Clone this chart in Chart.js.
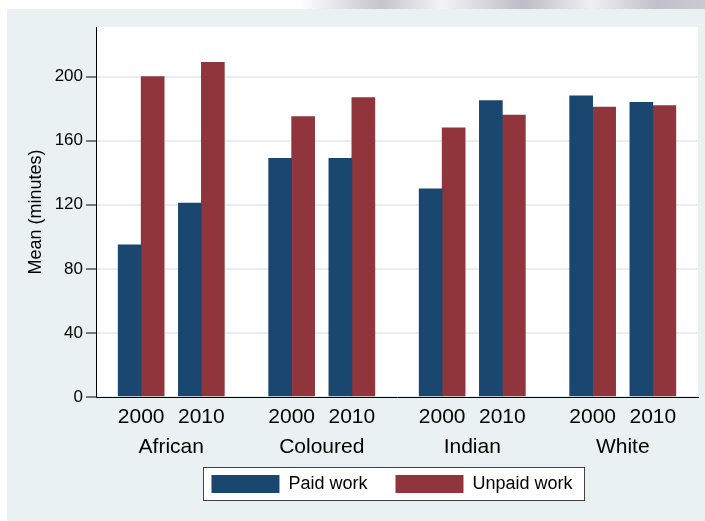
<!DOCTYPE html>
<html>
<head>
<meta charset="utf-8">
<script src="https://cdn.jsdelivr.net/npm/chart.js@4"></script>
<style>
  body { margin: 0; background: #fff; }
  canvas { display: block; }
</style>
</head>
<body>
<canvas id="grafico" width="705" height="521"></canvas>
<script>
// datos
const groups = ['African', 'Coloured', 'Indian', 'White'];
const years = ['2000', '2010'];
const paidWork = [95, 121, 149, 149, 130, 185, 188, 184];
const unpaidWork = [200, 209, 175, 187, 168, 176, 181, 182];
const yTicks = [0, 40, 80, 120, 160, 200];

// 20 posiciones en el eje: 5 por grupo, barras en la 1 y 3, nombre en la 2
const slots = 20;
const labels = [];
const paidData = [];
const unpaidData = [];
for (let i = 0; i < slots; i++) {
    labels.push(['']);
    paidData.push(null);
    unpaidData.push(null);
}
groups.forEach((g, gi) => {
    labels[2 + gi * 5] = ['', g];
    years.forEach((yr, yi) => {
        const s = 1 + gi * 5 + yi * 2;
        labels[s] = [yr];
        paidData[s] = paidWork[gi * 2 + yi];
        unpaidData[s] = unpaidWork[gi * 2 + yi];
    });
});

// caja de la leyenda a partir de los hitboxes
function legendFrame(chart) {
    const boxes = chart.legend.legendHitBoxes;
    if (!boxes || !boxes.length) return null;
    const l = Math.min(...boxes.map(b => b.left));
    const r = Math.max(...boxes.map(b => b.left + b.width));
    const t = boxes[0].top;
    return { x: Math.round(l - 8), y: Math.round(t - 8), w: Math.round(r - l + 20), h: 33 };
}

const fondo = {
    id: 'fondo',
    afterLayout(chart) {
        // que no se recorten los nombres de grupo
        chart.scales.x.bottom = chart.height;
        // leyenda un poco a la izquierda
        const lg = chart.legend;
        lg.left -= 5;
        lg.right -= 5;
        lg.legendHitBoxes.forEach(b => { b.left -= 5; });
    },
    beforeDraw(chart) {
        const c = chart.ctx;
        const a = chart.chartArea;
        c.save();
        c.fillStyle = '#fff';
        c.fillRect(0, 0, chart.width, chart.height);
        // franja gris de arriba
        const gr = c.createLinearGradient(300, 0, 705, 9);
        gr.addColorStop(0, '#ffffff');
        gr.addColorStop(0.2, '#c4c4ce');
        gr.addColorStop(0.35, '#f4f4f6');
        gr.addColorStop(0.55, '#bcbcc8');
        gr.addColorStop(0.72, '#f0f0f2');
        gr.addColorStop(0.88, '#c0c0cc');
        gr.addColorStop(1, '#cacad4');
        c.fillStyle = gr;
        c.fillRect(300, 0, 405, 9);
        c.fillStyle = '#eaf1f3';
        c.fillRect(7, 9, chart.width - 7, chart.height - 9);
        c.fillStyle = '#fff';
        c.fillRect(a.left, a.top, a.right - a.left, a.bottom - a.top);
        const f = legendFrame(chart);
        if (f) c.fillRect(f.x, f.y, f.w, f.h);
        c.restore();
    },
    afterDraw(chart) {
        const f = legendFrame(chart);
        if (!f) return;
        const c = chart.ctx;
        c.save();
        c.strokeStyle = '#444';
        c.lineWidth = 1;
        c.strokeRect(f.x + 0.5, f.y + 0.5, f.w, f.h);
        c.restore();
    }
};

new Chart(document.getElementById('grafico'), {
    type: 'bar',
    data: {
        labels: labels,
        datasets: [{
            label: 'Paid work',
            data: paidData,
            backgroundColor: '#1a476f',
            barThickness: 23
        }, {
            label: 'Unpaid work',
            data: unpaidData,
            backgroundColor: '#90353b',
            barThickness: 23
        }]
    },
    options: {
        responsive: false,
        animation: false,
        layout: {
            padding: { left: 7, right: 7, top: 27, bottom: 18 }
        },
        scales: {
            x: {
                grid: { display: false, drawTicks: false },
                border: { display: true, color: '#000', width: 1 },
                ticks: {
                    autoSkip: false,
                    maxRotation: 0,
                    minRotation: 0,
                    padding: 5,
                    color: '#000',
                    font: { family: '"Liberation Sans", Arial, sans-serif', size: 21, lineHeight: '30px' }
                },
                afterFit(scale) { scale.height = 50; }
            },
            y: {
                min: 0,
                max: 231,
                afterBuildTicks(scale) {
                    scale.ticks = yTicks.map(v => ({ value: v }));
                },
                grid: {
                    color: '#e6eff0',
                    lineWidth: 2,
                    tickColor: '#000',
                    tickLength: 10,
                    tickWidth: 1
                },
                border: { display: true, color: '#000', width: 1 },
                ticks: {
                    padding: 3,
                    color: '#000',
                    font: { family: '"Liberation Sans", Arial, sans-serif', size: 17 }
                },
                title: {
                    display: true,
                    text: 'Mean (minutes)',
                    color: '#000',
                    padding: { top: 18, bottom: 0 },
                    font: { family: '"Liberation Sans", Arial, sans-serif', size: 18 }
                },
                afterFit(scale) { scale.width = 89; }
            }
        },
        plugins: {
            legend: {
                position: 'bottom',
                fullSize: false,
                labels: {
                    boxWidth: 68,
                    boxHeight: 18,
                    padding: 28,
                    color: '#000',
                    font: { family: '"Liberation Sans", Arial, sans-serif', size: 18 }
                }
            },
            tooltip: { enabled: false }
        }
    },
    plugins: [fondo]
});
</script>
</body>
</html>
